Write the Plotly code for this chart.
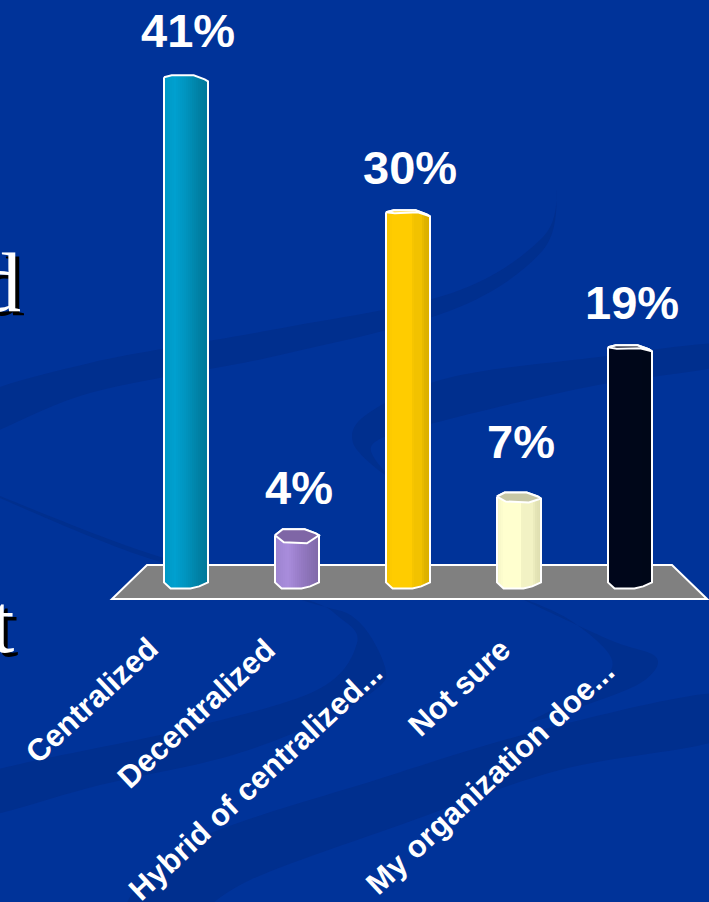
import numpy as np
import plotly.graph_objects as go

# Survey results
categories = ["Centralized", "Decentralized", "Hybrid of centralized...", "Not sure", "My organization doe..."]
values = [41, 4, 30, 7, 19]
value_labels = ["41%", "4%", "30%", "7%", "19%"]

W, H = 709, 902
AXIS_PX = 599          # pixel row of the x axis
BAR_X0, BAR_DX = 186, 111   # pixel centre of the first bar, spacing of bars
ZERO_PX, PX_PER_UNIT = 578.4, 12.27  # vertical scale
HALF = 22 / BAR_DX     # half bar width in x units
N_STRIPS = 22

BG = "#003399"
SWOOSH = "#002f8e"

# Left-to-right shading of each column (position across the bar, colour)
shades = [
    [(0, "#0098c6"), (.25, "#00a0cf"), (.5, "#0094bf"), (.68, "#0088ae"), (.82, "#007fa3"), (1, "#00789a")],
    [(0, "#9d84d0"), (.3, "#a98ddc"), (.6, "#957ac4"), (.8, "#8a71b5"), (1, "#8069a8")],
    [(0, "#f5c400"), (.14, "#ffcc00"), (.6, "#ffcc00"), (.62, "#f2c200"), (.83, "#f2c200"), (.85, "#e0b400"), (1, "#dcb000")],
    [(0, "#f4f4c6"), (.14, "#ffffcf"), (.55, "#ffffcf"), (.57, "#f2f2c4"), (.83, "#f2f2c4"), (.85, "#e6e6b8"), (1, "#dedeb0")],
    [(0, "#00061c"), (1, "#000818")],
]
# Pixel depth of the visible top face, its left shoulder, and its fill where it shows
cap_depth = [0, 14, 2, 10, 3]
cap_shoulder = [2, 6, 2, 4, 2]
cap_fill = [None, "#7f66a6", None, "#c7c7a5", None]

# Outline profile of the foot: (position across bar from -1 to 1, pixels below the zero line)
bottom_profile = [(-1, 4), (-.7, 10), (.2, 10), (.6, 8), (1, 4)]
# Extra nudge of each value label, in pixels
label_lift = [16, 13, 14, 23, 14]


def top_profile(shoulder):
    return [(-1, shoulder), (-.65, 0), (.35, 0), (.85, 4), (1, 6)]


def hex_rgb(c):
    return np.array([int(c[k:k + 2], 16) for k in (1, 3, 5)], dtype=float)


def shade_at(stops, t):
    pos = [s[0] for s in stops]
    rgb = np.array([hex_rgb(s[1]) for s in stops])
    mix = [np.interp(t, pos, rgb[:, k]) for k in range(3)]
    return "rgb(%d,%d,%d)" % tuple(mix)


def px_x(p):
    return p / W


def px_y(p):
    return 1 - p / H


def band(points):
    """Closed smooth path through pixel points, in paper coordinates."""
    pts = [(px_x(x), px_y(y)) for x, y in points]
    d = f"M{pts[0][0]:.4f},{pts[0][1]:.4f}"
    n = len(pts)
    for k in range(n):
        p0, p1, p2, p3 = pts[k - 1], pts[k], pts[(k + 1) % n], pts[(k + 2) % n]
        c1 = (p1[0] + (p2[0] - p0[0]) / 6, p1[1] + (p2[1] - p0[1]) / 6)
        c2 = (p2[0] - (p3[0] - p1[0]) / 6, p2[1] - (p3[1] - p1[1]) / 6)
        d += f" C{c1[0]:.4f},{c1[1]:.4f} {c2[0]:.4f},{c2[1]:.4f} {p2[0]:.4f},{p2[1]:.4f}"
    return dict(type="path", path=d + " Z", xref="paper", yref="paper",
                fillcolor=SWOOSH, line_width=0, layer="below")


shapes = [
    # Slide background swooshes
    band([(-30, 440), (90, 393), (271, 357), (452, 310), (543, 250), (556, 190),
          (543, 237), (452, 293), (271, 330), (90, 363), (-30, 400)]),
    band([(725, 343), (590, 358), (452, 377), (370, 412), (353, 443), (389, 477), (372, 445),
          (434, 423), (588, 387), (725, 365)]),
    band([(-30, 818), (100, 785), (226, 757), (317, 723), (375, 690), (385, 667), (357, 620), (308, 602),
          (136, 554), (-30, 484), (136, 549), (299, 597), (339, 617), (357, 643), (317, 690),
          (181, 730), (-30, 778)]),
    band([(520, 598), (610, 640), (656, 657), (645, 680), (600, 700), (530, 722),
          (590, 690), (612, 660), (570, 620)]),
    band([(120, 925), (181, 847), (385, 777), (560, 725), (725, 693), (725, 738),
          (560, 770), (400, 825), (250, 880), (180, 925)]),
    # Floor under the columns
    dict(type="path", xref="paper", yref="paper", layer="below",
         path=f"M{px_x(112)},{px_y(599)} L{px_x(707)},{px_y(599)} L{px_x(672)},{px_y(565)} L{px_x(147)},{px_y(565)} Z",
         fillcolor="#808080", line=dict(color="white", width=2)),
]

fig = go.Figure()
t = (np.arange(N_STRIPS) + .5) / N_STRIPS
f = 2 * t - 1
strip_w = 2 * HALF / N_STRIPS


def to_units(p):
    return p / PX_PER_UNIT


for i, (name, v) in enumerate(zip(categories, values)):
    profile = top_profile(cap_shoulder[i])
    top_drop = np.interp(f, [p[0] for p in profile], [p[1] for p in profile])
    bot_drop = np.interp(f, [p[0] for p in bottom_profile], [p[1] for p in bottom_profile])
    tops = v - to_units(top_drop)
    bases = to_units(-bot_drop)
    fig.add_trace(go.Bar(
        x=i + f * HALF, y=tops - bases, base=bases, width=strip_w * 1.08,
        marker=dict(color=[shade_at(shades[i], s) for s in t], line_width=0),
        name=name, showlegend=False, hoverinfo="skip",
    ))

    # White silhouette of the column
    top_x = [i + p[0] * HALF for p in profile]
    top_y = [v - to_units(p[1]) for p in profile]
    bot_x = [i + p[0] * HALF for p in reversed(bottom_profile)]
    bot_y = [to_units(-p[1]) for p in reversed(bottom_profile)]
    fig.add_trace(go.Scatter(
        x=top_x + bot_x + top_x[:1], y=top_y + bot_y + top_y[:1], mode="lines",
        line=dict(color="white", width=2), showlegend=False, hoverinfo="skip",
    ))

    # Top face of the column
    d = cap_depth[i]
    if d > 0:
        s = cap_shoulder[i]
        cap_x = [i + q * HALF for q in (-1, -.6, .45, 1)]
        cap_y = [v - to_units(q) for q in (s, s + d * .5, d, 6)]
        back_x = [i + p[0] * HALF for p in reversed(profile)]
        back_y = [v - to_units(p[1]) for p in reversed(profile)]
        fig.add_trace(go.Scatter(
            x=cap_x + back_x + cap_x[:1], y=cap_y + back_y + cap_y[:1], mode="lines",
            fill="toself" if cap_fill[i] else None, fillcolor=cap_fill[i],
            line=dict(color="white", width=2), showlegend=False, hoverinfo="skip",
        ))

annotations = []
# Value labels above the columns
for i, (v, lab) in enumerate(zip(values, value_labels)):
    annotations.append(dict(
        x=i, y=v, xref="x", yref="y", text=lab, showarrow=False, xanchor="center", yanchor="bottom",
        xshift=2, yshift=label_lift[i],
        font=dict(family="Liberation Sans", size=47, color="white", weight="bold"),
    ))

# Slanted category labels: pixel centre of each rotated label
label_centres = [(91.5, 700), (196, 713), (255, 781), (459, 687), (490, 777)]
for i, (name, (cx, cy)) in enumerate(zip(categories, label_centres)):
    annotations.append(dict(
        x=px_x(cx), y=px_y(cy), xref="paper", yref="paper", text=name, showarrow=False,
        xanchor="center", yanchor="middle", textangle=-43,
        font=dict(family="Liberation Sans", size=31, color="white", weight="bold"),
    ))

# Ends of the slide text that runs in from the left edge
for letter, right, base in (("d", 23, 282), ("t", 16, 623)):
    annotations.append(dict(
        x=px_x(right), y=px_y(base), xref="paper", yref="paper", text=letter, showarrow=False,
        xanchor="right", yanchor="middle",
        font=dict(family="Liberation Serif", size=84, color="white", shadow="4px 4px 0px #000000"),
    ))

fig.update_layout(
    width=W, height=H, margin=dict(l=0, r=0, t=0, b=0, autoexpand=False),
    paper_bgcolor=BG, plot_bgcolor="rgba(0,0,0,0)", barmode="overlay", bargap=0,
    shapes=shapes, annotations=annotations, showlegend=False,
    xaxis=dict(range=[-BAR_X0 / BAR_DX, (W - BAR_X0) / BAR_DX], visible=False, domain=[0, 1]),
    yaxis=dict(range=[(ZERO_PX - AXIS_PX) / PX_PER_UNIT, ZERO_PX / PX_PER_UNIT], visible=False,
               domain=[1 - AXIS_PX / H, 1]),
)

fig.write_html("out.html", config=dict(displayModeBar=False))
